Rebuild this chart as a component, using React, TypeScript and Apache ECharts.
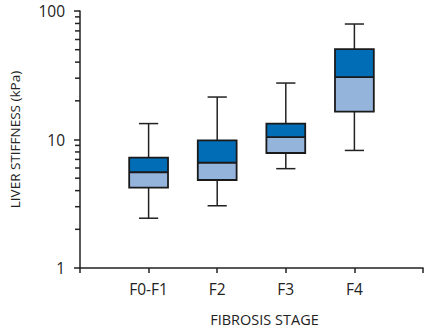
import React, { useEffect, useRef } from "react";
import * as echarts from "echarts";

const categories = ["F0-F1", "F2", "F3", "F4"];
const whiskerLow = [2.44, 3.05, 5.93, 8.22];
const q1 = [4.22, 4.84, 7.85, 16.5];
const median = [5.56, 6.59, 10.45, 30.6];
const q3 = [7.23, 9.86, 13.3, 50.5];
const whiskerHigh = [13.3, 21.4, 27.5, 79.2];
const minorTickValues = [2, 3, 4, 5, 6, 7, 8, 9, 20, 30, 40, 50, 60, 70, 80, 90];

const FONT = "'Open Sans', sans-serif";
const INK = "#222222";
const DARK = "#006db6";
const LIGHT = "#94b4db";

export default function App() {
  const ref = useRef<HTMLDivElement>(null);
  useEffect(() => {
    if (!ref.current) return;
    const chart = echarts.init(ref.current, null, { renderer: "svg" });
    const boxData = categories.map((_, i) => [
      i + 1,
      whiskerLow[i],
      q1[i],
      median[i],
      q3[i],
      whiskerHigh[i],
    ]);
    chart.setOption({
      animation: false,
      grid: { left: 78, top: 11, bottom: 58, right: -4.5 },
      xAxis: {
        type: "value",
        min: 0,
        max: 5,
        interval: 1,
        name: "FIBROSIS STAGE",
        nameLocation: "middle",
        nameGap: 44,
        nameTextStyle: {
          fontFamily: FONT,
          fontSize: 14.5,
          color: INK,
          padding: [0, 0, 0, 26],
        },
        axisLine: { lineStyle: { color: INK, width: 1.5 } },
        axisTick: { length: 5, lineStyle: { color: INK, width: 1.5 } },
        axisLabel: {
          fontFamily: FONT,
          fontSize: 15.5,
          color: INK,
          margin: 13,
          formatter: (v: number) => categories[v - 1] ?? "",
        },
        splitLine: { show: false },
      },
      yAxis: {
        type: "log",
        logBase: 10,
        min: 1,
        max: 100,
        name: "LIVER STIFFNESS (kPa)",
        nameLocation: "middle",
        nameGap: 58,
        nameTextStyle: { fontFamily: FONT, fontSize: 13.5, color: INK },
        axisLine: { show: true, lineStyle: { color: INK, width: 1.5 } },
        axisTick: { show: true, length: 6, lineStyle: { color: INK, width: 1.5 } },
        axisLabel: { fontFamily: FONT, fontSize: 15.5, color: INK, margin: 15 },
        splitLine: { show: false },
      },
      series: [
        {
          type: "custom",
          data: minorTickValues.map((v) => [0, v]),
          clip: false,
          silent: true,
          renderItem: (params: any, api: any) => {
            const p = api.coord([api.value(0), api.value(1)]);
            return {
              type: "line",
              shape: { x1: p[0] - 5, y1: p[1], x2: p[0], y2: p[1] },
              style: { stroke: INK, lineWidth: 1.5 },
            };
          },
        },
        {
          type: "custom",
          data: boxData,
          clip: false,
          renderItem: (params: any, api: any) => {
            const x = api.value(0);
            const unit = api.size([1, 0])[0];
            const half = unit * 0.283;
            const cap = unit * 0.14;
            const pLow = api.coord([x, api.value(1)]);
            const pQ1 = api.coord([x, api.value(2)]);
            const pMed = api.coord([x, api.value(3)]);
            const pQ3 = api.coord([x, api.value(4)]);
            const pHigh = api.coord([x, api.value(5)]);
            const cx = pMed[0];
            const lineStyle = { stroke: INK, lineWidth: 1.5 };
            return {
              type: "group",
              children: [
                { type: "line", shape: { x1: cx, y1: pHigh[1], x2: cx, y2: pQ3[1] }, style: lineStyle },
                { type: "line", shape: { x1: cx - cap, y1: pHigh[1], x2: cx + cap, y2: pHigh[1] }, style: lineStyle },
                { type: "line", shape: { x1: cx, y1: pQ1[1], x2: cx, y2: pLow[1] }, style: lineStyle },
                { type: "line", shape: { x1: cx - cap, y1: pLow[1], x2: cx + cap, y2: pLow[1] }, style: lineStyle },
                {
                  type: "rect",
                  shape: { x: cx - half, y: pQ3[1], width: half * 2, height: pMed[1] - pQ3[1] },
                  style: { fill: DARK },
                },
                {
                  type: "rect",
                  shape: { x: cx - half, y: pMed[1], width: half * 2, height: pQ1[1] - pMed[1] },
                  style: { fill: LIGHT },
                },
                {
                  type: "rect",
                  shape: { x: cx - half, y: pQ3[1], width: half * 2, height: pQ1[1] - pQ3[1] },
                  style: { fill: "none", stroke: "#1a1a1a", lineWidth: 1.8 },
                },
                {
                  type: "line",
                  shape: { x1: cx - half, y1: pMed[1], x2: cx + half, y2: pMed[1] },
                  style: { stroke: "#1a1a1a", lineWidth: 1.8 },
                },
              ],
            };
          },
        },
      ],
    });
    return () => chart.dispose();
  }, []);
  return (
    <div
      ref={ref}
      style={{ position: "fixed", left: 0, top: 0, width: 426, height: 332, background: "#fff" }}
    />
  );
}
